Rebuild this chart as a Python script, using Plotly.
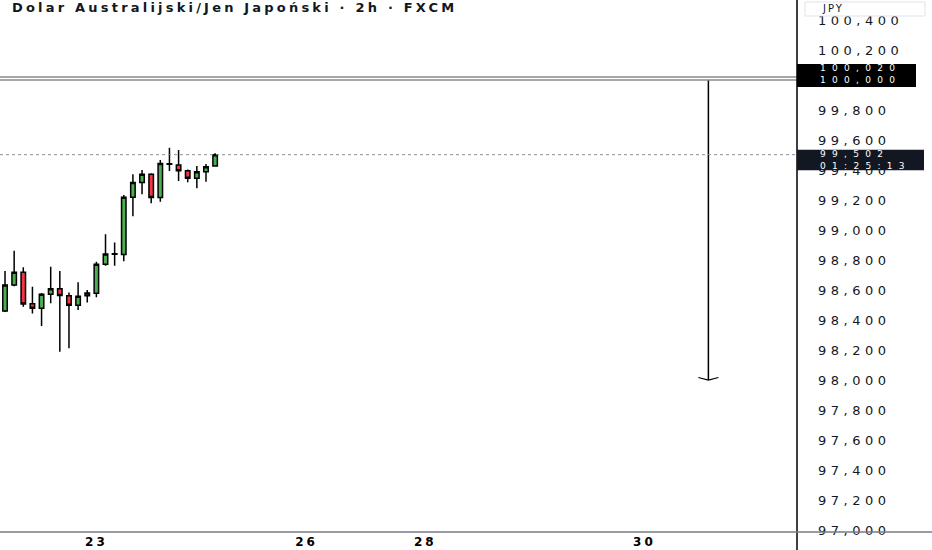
import plotly.graph_objects as go

# 2h AUD/JPY candles (bar index, OHLC)
bar_index = list(range(24))
opens = [98.460, 98.633, 98.718, 98.509, 98.478, 98.571, 98.609, 98.562, 98.498, 98.562,
         98.578, 98.771, 98.842, 98.836, 99.218, 99.316, 99.371, 99.216, 99.442, 99.433,
         99.395, 99.345, 99.389, 99.427]
highs = [98.727, 98.862, 98.751, 98.622, 98.580, 98.755, 98.727, 98.584, 98.651, 98.600,
         98.789, 98.971, 98.916, 99.233, 99.371, 99.400, 99.378, 99.467, 99.549, 99.533,
         99.404, 99.427, 99.440, 99.511]
lows = [98.453, 98.625, 98.489, 98.444, 98.360, 98.511, 98.189, 98.211, 98.467, 98.516,
        98.551, 98.762, 98.762, 98.791, 99.091, 99.238, 99.178, 99.189, 99.393, 99.327,
        99.318, 99.278, 99.322, 99.425]
closes = [98.633, 98.718, 98.507, 98.478, 98.571, 98.609, 98.564, 98.498, 98.558, 98.580,
          98.771, 98.840, 98.838, 99.218, 99.316, 99.371, 99.216, 99.444, 99.438, 99.395,
          99.345, 99.389, 99.422, 99.502]

# date labels on the time axis
date_ticks = [10, 33, 46, 70]
date_labels = ["23", "26", "28", "30"]

# price axis (100,000 sits under the level label box, so it is not shown)
price_ticks = [97.0 + 0.2 * i for i in range(18) if i != 15]
price_labels = [f"{p:.3f}".replace(".", ",") for p in price_ticks]

# drawn objects
level_lines = [100.02, 100.0]
arrow_bar = 77
arrow_from = 100.0
arrow_to = 98.0
countdown = "01:25:13"

X_RANGE = [-0.55, 86.7]
Y_RANGE = [96.987, 100.533]
PLOT_W, PLOT_H = 797, 532
PX = (Y_RANGE[1] - Y_RANGE[0]) / PLOT_H   # price per pixel
TEXT_COLOR = "#131722"
FONT = "DejaVu Sans"


def fmt(v):
    return f"{v:.3f}".replace(".", ",")


fig = go.Figure()

fig.add_trace(go.Candlestick(
    x=bar_index, open=opens, high=highs, low=lows, close=closes,
    increasing=dict(fillcolor="#4caf50", line=dict(color="#000000", width=1.5)),
    decreasing=dict(fillcolor="#f23645", line=dict(color="#000000", width=1.5)),
    whiskerwidth=0,
))

# vertical arrow (projection)
fig.add_trace(go.Scatter(x=[arrow_bar, arrow_bar], y=[arrow_from, arrow_to], mode="lines",
                         line=dict(color="#000000", width=1.5)))
fig.add_trace(go.Scatter(x=[arrow_bar - 1.1, arrow_bar, arrow_bar + 1.1],
                         y=[arrow_to + 2.5 * PX, arrow_to, arrow_to + 2.5 * PX], mode="lines",
                         line=dict(color="#000000", width=1.2)))

for lvl in level_lines:
    fig.add_shape(type="line", xref="x", yref="y", x0=X_RANGE[0], x1=X_RANGE[1], y0=lvl, y1=lvl,
                  line=dict(color="#8a8a8a", width=1.5))

# last price dotted line
fig.add_shape(type="line", xref="x", yref="y", x0=X_RANGE[0], x1=X_RANGE[1],
              y0=closes[-1], y1=closes[-1], line=dict(color="#8a8e97", width=1, dash="dot"))

# axis frame lines
fig.add_shape(type="line", xref="paper", yref="paper", x0=1, x1=1, y0=-0.04, y1=1,
              line=dict(color="#000000", width=1.5))
fig.add_shape(type="line", xref="paper", yref="paper", x0=0, x1=1.17, y0=0, y1=0,
              line=dict(color="#787b86", width=1.5))

# price label boxes on the scale
lo, hi = min(level_lines), max(level_lines)
fig.add_shape(type="rect", xref="paper", yref="y", x0=1.0, x1=1 + 119 / PLOT_W,
              y0=lo - 7 * PX, y1=lo + 16 * PX, fillcolor="#000000", line=dict(width=0),
              layer="above")
fig.add_shape(type="rect", xref="paper", yref="y", x0=1.0, x1=1 + 127 / PLOT_W,
              y0=closes[-1] - 15.5 * PX, y1=closes[-1] + 5 * PX, fillcolor="#131722",
              line=dict(width=0), layer="above")
# currency box
fig.add_shape(type="rect", xref="paper", yref="paper", x0=1 + 8 / PLOT_W, x1=1 + 128 / PLOT_W,
              y0=1 - 16 / PLOT_H, y1=1 - 2 / PLOT_H, fillcolor="#ffffff",
              line=dict(color="#e0e3eb", width=1), layer="above")


def label(text, y, yref="y", yshift=0, color="#ffffff", size=9, xshift=21):
    return dict(xref="paper", yref=yref, x=1.0, y=y, xanchor="left", yanchor="middle",
                xshift=xshift, yshift=yshift, text=text, showarrow=False, align="left",
                font=dict(family=FONT, size=size, color=color))


annotations = [
    dict(xref="paper", yref="paper", x=0.013, y=1.0, xanchor="left", yanchor="top", yshift=2,
         text="<b>Dolar Australijski/Jen Japoński · 2h · FXCM</b>", showarrow=False,
         align="left", font=dict(family=FONT, size=13, color=TEXT_COLOR)),
    label("JPY", 1 - 9 / PLOT_H, yref="paper", color=TEXT_COLOR, size=10, xshift=23),
    label(fmt(hi) + "<br>" + fmt(lo), lo, yshift=5.5),
    label(fmt(closes[-1]) + "<br>" + countdown, closes[-1], yshift=-5),
]

fig.update_layout(
    width=932, height=550,
    margin=dict(l=0, r=135, t=0, b=18),
    paper_bgcolor="#ffffff", plot_bgcolor="#ffffff",
    showlegend=False, hovermode=False,
    annotations=annotations,
    font=dict(family=FONT, color=TEXT_COLOR),
)
fig.update_xaxes(range=X_RANGE, rangeslider=dict(visible=False), showgrid=False, zeroline=False,
                 tickvals=date_ticks, ticktext=date_labels, ticks="", ticklabelstandoff=1,
                 tickfont=dict(family=FONT, size=12, color="#000000", weight="bold"))
fig.update_yaxes(range=Y_RANGE, side="right", showgrid=False, zeroline=False,
                 tickvals=price_ticks, ticktext=price_labels, ticks="", ticklabelstandoff=20,
                 tickfont=dict(family=FONT, size=13, color=TEXT_COLOR))

# page without body margin; the screenshot text is wide, so spread letters a bit
css = (".ytick text{letter-spacing:4.5px}"
       ".xtick text{letter-spacing:3px}"
       ".annotation[data-index='0'] text{letter-spacing:3.2px}"
       ".annotation[data-index='1'] text{letter-spacing:2px}"
       ".annotation[data-index='2'] text,.annotation[data-index='3'] text{letter-spacing:6.3px}")
post = ("document.body.style.margin='0';"
        "var st=document.createElement('style');st.textContent=\"" + css + "\";"
        "document.head.appendChild(st);")

fig.write_html("out.html", post_script=post, config={"displayModeBar": False})
